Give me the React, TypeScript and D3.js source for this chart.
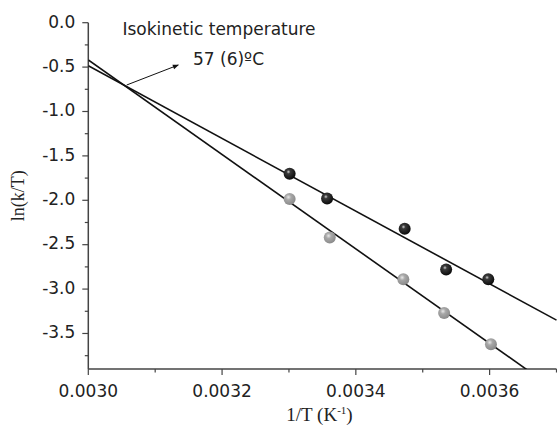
import React from 'react';
import * as d3 from 'd3';

// 1/T (K^-1) and ln(k/T)
const darkX = [0.003301, 0.003357, 0.003473, 0.003535, 0.003598];
const darkY = [-1.70, -1.98, -2.32, -2.78, -2.89];
const grayX = [0.003301, 0.003361, 0.003471, 0.003532, 0.003602];
const grayY = [-1.985, -2.42, -2.89, -3.27, -3.62];

// fitted lines: [x, y] at both ends
const darkFit = [[0.0030, -0.485], [0.0037, -3.35]];
const grayFit = [[0.0030, -0.42], [0.0037, -4.143]];

const xTicks = [0.0030, 0.0032, 0.0034, 0.0036];
const xMinor = [0.0031, 0.0033, 0.0035, 0.0037];
const yTicks = [0.0, -0.5, -1.0, -1.5, -2.0, -2.5, -3.0, -3.5];
const yMinor = [-0.25, -0.75, -1.25, -1.75, -2.25, -2.75, -3.25, -3.75];

const W = 557;
const H = 425;
const left = 88.3, right = 556.5, top = 22.7, bottom = 369;

export default function App() {
  const x = d3.scaleLinear().domain([0.0030, 0.0037]).range([left, right]);
  const y = d3.scaleLinear().domain([-3.9, 0]).range([bottom, top]);
  const line = d3.line<number[]>().x(d => x(d[0])).y(d => y(d[1]));
  const sans = 'DejaVu Sans, sans-serif';
  const serif = 'Liberation Serif, Times New Roman, serif';
  const axisColor = '#444';

  return (
    <svg width={W} height={H} style={{ position: 'absolute', left: 0, top: 0, background: '#fff' }}>
      <defs>
        <clipPath id="plot">
          <rect x={left} y={top - 30} width={right - left + 1} height={bottom - top + 30} />
        </clipPath>
        <radialGradient id="ballDark" cx="0.4" cy="0.35" r="0.65">
          <stop offset="0" stopColor="#cfcfcf" />
          <stop offset="0.25" stopColor="#3a3a3a" />
          <stop offset="1" stopColor="#0a0a0a" />
        </radialGradient>
        <radialGradient id="ballGray" cx="0.4" cy="0.35" r="0.65">
          <stop offset="0" stopColor="#e8e8e8" />
          <stop offset="0.35" stopColor="#a8a8a8" />
          <stop offset="1" stopColor="#8a8a8a" />
        </radialGradient>
        <marker id="arrow" viewBox="0 0 10 10" refX="9" refY="5" markerWidth="8" markerHeight="6" orient="auto">
          <path d="M0,1 L10,5 L0,9 Z" fill="#111" />
        </marker>
      </defs>

      {/* axes */}
      <line x1={left} x2={left} y1={top} y2={bottom} stroke={axisColor} strokeWidth={1.5} />
      <line x1={left} x2={right} y1={bottom} y2={bottom} stroke={axisColor} strokeWidth={1.5} />
      {yTicks.map(t => (
        <g key={'y' + t}>
          <line x1={left - 6} x2={left} y1={y(t)} y2={y(t)} stroke={axisColor} strokeWidth={1.2} />
          <text x={left - 13} y={y(t) + 4.8} textAnchor="end" fontFamily={sans} fontSize={17} fill="#222">
            {t.toFixed(1)}
          </text>
        </g>
      ))}
      {yMinor.map(t => (
        <line key={'ym' + t} x1={left - 3.5} x2={left} y1={y(t)} y2={y(t)} stroke={axisColor} strokeWidth={1.2} />
      ))}
      {xTicks.map(t => (
        <g key={'x' + t}>
          <line x1={x(t)} x2={x(t)} y1={bottom} y2={bottom + 6} stroke={axisColor} strokeWidth={1.2} />
          <text x={x(t)} y={bottom + 27.7} textAnchor="middle" fontFamily={sans} fontSize={17} fill="#222">
            {t.toFixed(4)}
          </text>
        </g>
      ))}
      {xMinor.map(t => (
        <line key={'xm' + t} x1={x(t)} x2={x(t)} y1={bottom} y2={bottom + 3.5} stroke={axisColor} strokeWidth={1.2} />
      ))}

      {/* axis titles */}
      <text x={319.5} y={421} textAnchor="middle" fontFamily={serif} fontSize={19} fill="#222">
        1/T (K<tspan dy={-7} fontSize={11}>-1</tspan><tspan dy={7}>)</tspan>
      </text>
      <text transform={`translate(24,${(top + bottom) / 2}) rotate(-90)`} textAnchor="middle" fontFamily={serif} fontSize={18} fill="#222">
        ln(k/T)
      </text>

      {/* fitted lines */}
      <g clipPath="url(#plot)">
        <path d={line(darkFit) || ''} fill="none" stroke="#111" strokeWidth={1.6} />
        <path d={line(grayFit) || ''} fill="none" stroke="#111" strokeWidth={1.6} />
      </g>

      {/* points */}
      {grayX.map((v, i) => (
        <circle key={'g' + i} cx={x(v)} cy={y(grayY[i])} r={6} fill="url(#ballGray)" />
      ))}
      {darkX.map((v, i) => (
        <circle key={'d' + i} cx={x(v)} cy={y(darkY[i])} r={6} fill="url(#ballDark)" />
      ))}

      {/* annotation */}
      <line x1={126.7} y1={85} x2={178.3} y2={65} stroke="#111" strokeWidth={1} markerEnd="url(#arrow)" />
      <text x={122.5} y={34.5} fontFamily={sans} fontSize={17} fill="#222">Isokinetic temperature</text>
      <text x={193} y={65} fontFamily={sans} fontSize={17} fill="#222">57 (6)ºC</text>
    </svg>
  );
}
